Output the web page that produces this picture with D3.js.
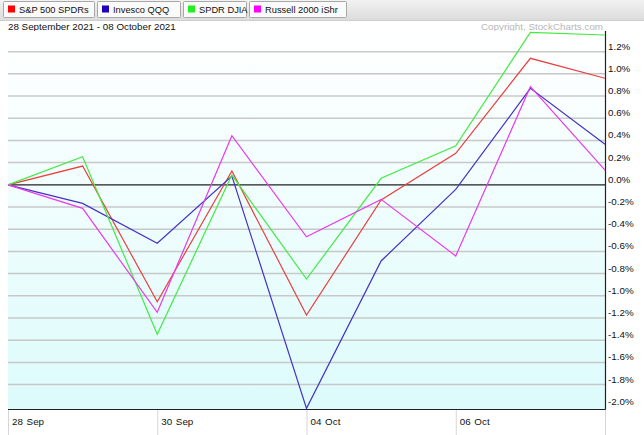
<!DOCTYPE html>
<html><head><meta charset="utf-8">
<script src="https://cdn.jsdelivr.net/npm/d3@7"></script>
<style>body{margin:0;background:#fff}svg{display:block;font-family:"Liberation Sans",Arial,sans-serif}</style>
</head><body><svg id="c" width="644" height="435"></svg>
<script>
const dates = ["28 Sep","29 Sep","30 Sep","01 Oct","04 Oct","05 Oct","06 Oct","07 Oct","08 Oct"];
const tickLabels = ["28 Sep","30 Sep","04 Oct","06 Oct"];
const tickIdx = [0,2,4,6];
const seriesNames = ["S&P 500 SPDRs","Invesco QQQ","SPDR DJIA","Russell 2000 iShr"];
const seriesColors = ["#e8413f","#4532c4","#44ea44","#ea3aea"];
const legendColors = ["#ff0000","#2200bb","#22ee22","#ff00ff"];
const spy = [0, 0.169, -1.053, 0.124, -1.173, -0.137, 0.284, 1.140, 0.960];
const qqq = [0, -0.167, -0.527, 0.079, -2.014, -0.686, -0.041, 0.869, 0.365];
const dia = [0, 0.253, -1.347, 0.088, -0.849, 0.059, 0.352, 1.374, 1.350];
const iwm = [0, -0.212, -1.149, 0.442, -0.468, -0.131, -0.641, 0.884, 0.133];
const yTicks = [1.2,1.0,0.8,0.6,0.4,0.2,0.0,-0.2,-0.4,-0.6,-0.8,-1.0,-1.2,-1.4,-1.6,-1.8,-2.0];
const subtitle = "28 September 2021 - 08 October 2021";
const copyright = "Copyright, StockCharts.com";

const svg = d3.select("#c");
const L = 8, R = 605, T = 31, B = 409;
const FS = 9.8;
const x = d3.scaleLinear().domain([0, dates.length-1]).range([L, R]);
const y = d3.scaleLinear().domain([-2.02, 1.386]).range([B, T]);

const defs = svg.append("defs");
const lg = defs.append("linearGradient").attr("id","bg").attr("x1",0).attr("x2",0).attr("y1",0).attr("y2",1);
lg.append("stop").attr("offset","0%").attr("stop-color","#ffffff");
lg.append("stop").attr("offset","100%").attr("stop-color","#ddfbfb");
const hg = defs.append("linearGradient").attr("id","hdr").attr("x1",0).attr("x2",0).attr("y1",0).attr("y2",1);
hg.append("stop").attr("offset","0%").attr("stop-color","#f2f2f2");
hg.append("stop").attr("offset","100%").attr("stop-color","#dcdcdc");

// header bar
svg.append("rect").attr("x",0).attr("y",0).attr("width",644).attr("height",20).attr("fill","url(#hdr)");
svg.append("line").attr("x1",0).attr("x2",644).attr("y1",20.5).attr("y2",20.5).attr("stroke","#cfcfcf");
const boxes = [[3,91],[97,83],[183,63],[249,97]];
seriesNames.forEach((n,i)=>{
  const g = svg.append("g").attr("transform",`translate(${boxes[i][0]},1)`);
  g.append("rect").attr("x",0.5).attr("y",0.5).attr("width",boxes[i][1]).attr("height",16).attr("rx",1)
    .attr("fill","#fafafa").attr("stroke","#a8a8a8");
  g.append("rect").attr("x",5).attr("y",4.5).attr("width",7).attr("height",7).attr("fill",legendColors[i]);
  g.append("text").attr("x",16).attr("y",12).attr("font-size",9.3).attr("fill","#111").text(n);
});

svg.append("text").attr("x",8).attr("y",30).attr("font-size",FS).attr("fill","#111").text(subtitle);
svg.append("text").attr("x",603).attr("y",30).attr("text-anchor","end").attr("font-size",FS).attr("fill","#b8b8b8").text(copyright);

// plot background
svg.append("rect").attr("x",L).attr("y",T).attr("width",R-L).attr("height",B-T).attr("fill","url(#bg)");

// gridlines
svg.append("g").selectAll("line").data(yTicks.filter(v=>v!==0 && v>-2)).join("line")
  .attr("x1",L).attr("x2",R).attr("y1",d=>y(d)).attr("y2",d=>y(d))
  .attr("stroke","#c8c8c8").attr("stroke-width",1.5);
svg.append("line").attr("x1",L).attr("x2",R).attr("y1",y(0)).attr("y2",y(0)).attr("stroke","#222").attr("stroke-width",1.2);

// y labels
svg.append("g").selectAll("text").data(yTicks).join("text")
  .attr("x",R+3).attr("y",d=>y(d)-2).attr("font-size",FS).attr("fill","#111")
  .text(d=>d3.format(".1f")(d).replace("−","-")+"%");

// x separators and labels
svg.append("g").selectAll("line").data(tickIdx.concat([8])).join("line")
  .attr("x1",d=>x(d)+0.5).attr("x2",d=>x(d)+0.5).attr("y1",B).attr("y2",435)
  .attr("stroke","#d6d6d6").attr("stroke-width",1);
svg.append("g").selectAll("text").data(tickIdx).join("text")
  .attr("x",d=>x(d)+4).attr("y",425).attr("font-size",FS).attr("fill","#111").attr("word-spacing","1px")
  .text((d,i)=>tickLabels[i]);

// axes frame
svg.append("line").attr("x1",L).attr("x2",R+0.5).attr("y1",B+0.5).attr("y2",B+0.5).attr("stroke","#222").attr("stroke-width",1.2);
svg.append("line").attr("x1",R+0.5).attr("x2",R+0.5).attr("y1",T).attr("y2",B+0.5).attr("stroke","#222").attr("stroke-width",1.2);

// series
const line = d3.line().x((d,i)=>x(i)).y(d=>y(d));
[spy,qqq,dia,iwm].forEach((s,i)=>{
  svg.append("path").datum(s).attr("d",line).attr("fill","none")
    .attr("stroke",seriesColors[i]).attr("stroke-width",1.2);
});
</script></body></html>
